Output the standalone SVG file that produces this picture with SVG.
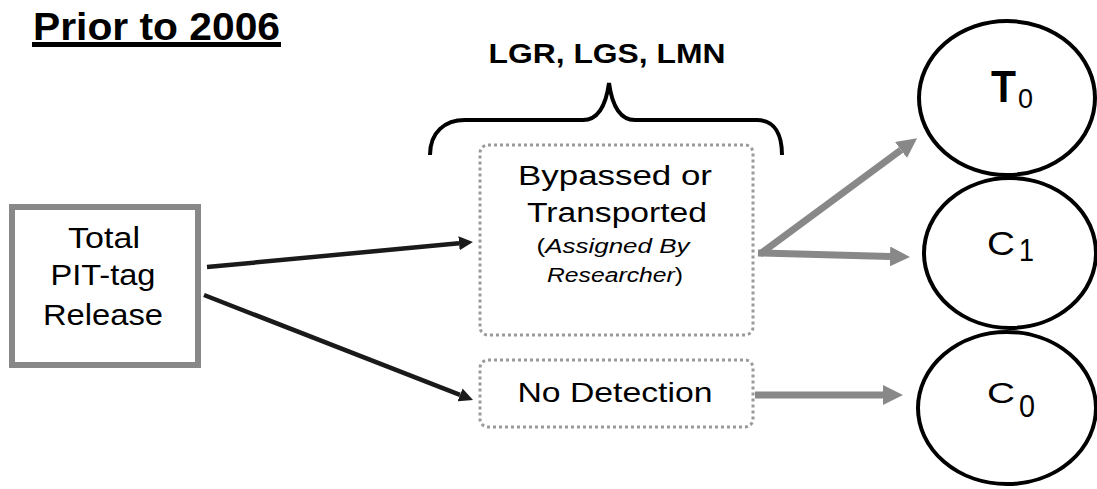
<svg xmlns="http://www.w3.org/2000/svg" width="1097" height="489" viewBox="0 0 1097 489">
<style>
text{font-family:"Liberation Sans",Arial,sans-serif;fill:#000}
.dot{fill:#fff;stroke:#9a9a9a;stroke-width:3;stroke-dasharray:3 3}
.blk{stroke:#1a1a1a;stroke-width:4.5;fill:none;marker-end:url(#ab)}
.gry{stroke:#888;stroke-width:7;fill:none;marker-end:url(#ag)}
.ell{fill:#fff;stroke:#000;stroke-width:4}
</style>
<defs>
<marker id="ab" markerUnits="userSpaceOnUse" viewBox="0 0 14 14" markerWidth="14" markerHeight="14" refX="0" refY="7" orient="auto"><path d="M0,0 L14,7 L0,14 z" fill="#1a1a1a"/></marker>
<marker id="ag" markerUnits="userSpaceOnUse" viewBox="0 0 20 20" markerWidth="20" markerHeight="20" refX="0" refY="10" orient="auto"><path d="M0,0 L20,10 L0,20 z" fill="#888"/></marker>
</defs>
<rect width="1097" height="489" fill="#fff"/>
<g id="title">
<text x="33" y="40" font-size="38" font-weight="bold" textLength="247" lengthAdjust="spacingAndGlyphs">Prior to 2006</text>
<rect x="32" y="42" width="249" height="5" fill="#000"/>
</g>
<g id="header">
<text x="607" y="63" font-size="28" font-weight="bold" text-anchor="middle" textLength="237" lengthAdjust="spacingAndGlyphs">LGR, LGS, LMN</text>
<path d="M430,155 C430,132 445,120 465,120 L583,120 C598,120 606,105 609,83 C612,105 620,120 635,120 L757,120 C775,120 782,135 782,155" fill="none" stroke="#000" stroke-width="4"/>
</g>
<g id="connectors">
<line class="blk" x1="207" y1="267" x2="459" y2="243.3"/>
<line class="blk" x1="204" y1="295" x2="460" y2="394.9"/>
<line class="gry" x1="760" y1="254" x2="901" y2="150"/>
<line class="gry" x1="758" y1="253" x2="890" y2="256.5"/>
<line class="gry" x1="755" y1="395" x2="883" y2="395"/>
</g>
<g id="total">
<rect x="12" y="207" width="186" height="158" fill="#fff" stroke="#888" stroke-width="6"/>
<text x="104" y="248" font-size="29" text-anchor="middle" textLength="72" lengthAdjust="spacingAndGlyphs">Total</text>
<text x="103" y="285" font-size="29" text-anchor="middle" textLength="105" lengthAdjust="spacingAndGlyphs">PIT-tag</text>
<text x="103" y="325" font-size="29" text-anchor="middle" textLength="120" lengthAdjust="spacingAndGlyphs">Release</text>
</g>
<g id="bypassed">
<rect class="dot" x="480" y="145" width="273" height="190" rx="8"/>
<text x="615" y="185" font-size="27" text-anchor="middle" textLength="194" lengthAdjust="spacingAndGlyphs">Bypassed or</text>
<text x="617" y="222" font-size="27" text-anchor="middle" textLength="180" lengthAdjust="spacingAndGlyphs">Transported</text>
<text x="613" y="253" font-size="20" text-anchor="middle" textLength="153" lengthAdjust="spacingAndGlyphs">(<tspan font-style="italic">Assigned By</tspan></text>
<text x="615" y="282" font-size="20" text-anchor="middle" textLength="136" lengthAdjust="spacingAndGlyphs"><tspan font-style="italic">Researcher</tspan>)</text>
</g>
<g id="nodetection">
<rect class="dot" x="480" y="360" width="273" height="67" rx="8"/>
<text x="615" y="402" font-size="28" text-anchor="middle" textLength="195" lengthAdjust="spacingAndGlyphs">No Detection</text>
</g>
<g id="T0">
<ellipse class="ell" cx="1007" cy="98" rx="88" ry="77"/>
<text x="991" y="102" font-size="44" font-weight="bold" textLength="25" lengthAdjust="spacingAndGlyphs">T</text>
<text x="1018" y="108" font-size="28" textLength="15" lengthAdjust="spacingAndGlyphs">0</text>
</g>
<g id="C1">
<ellipse class="ell" cx="1010" cy="253" rx="86" ry="75"/>
<text x="987" y="255" font-size="33" textLength="28" lengthAdjust="spacingAndGlyphs">C</text>
<text x="1019" y="261" font-size="32" textLength="15" lengthAdjust="spacingAndGlyphs">1</text>
</g>
<g id="C0">
<ellipse class="ell" cx="1007" cy="408" rx="89" ry="76"/>
<text x="987" y="403" font-size="30" textLength="28" lengthAdjust="spacingAndGlyphs">C</text>
<text x="1019" y="417" font-size="32" textLength="16" lengthAdjust="spacingAndGlyphs">0</text>
</g>
</svg>
